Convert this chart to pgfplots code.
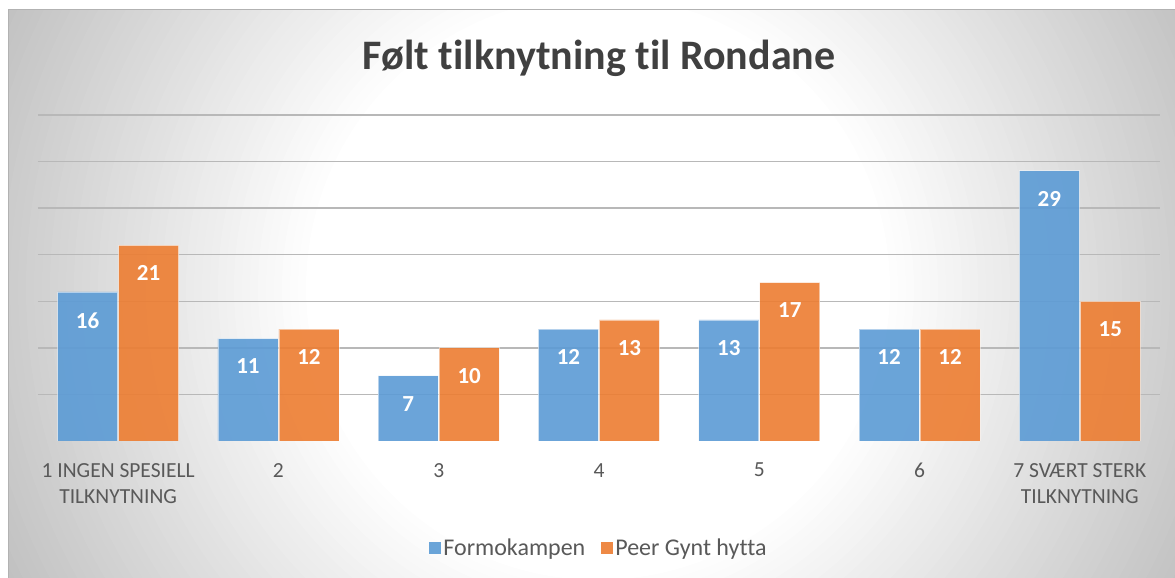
\documentclass[border=0pt]{standalone}
\usepackage{pgfplots}
\pgfplotsset{compat=1.18}
\usepackage{fontspec}
\setmainfont[RawFeature={-liga;-clig;-calt}]{Carlito}
\definecolor{fblue}{HTML}{5B9BD5}
\definecolor{porange}{HTML}{ED7D31}
\definecolor{txt}{HTML}{595959}
\definecolor{ttl}{HTML}{404040}
\begin{document}
\begin{tikzpicture}[x=1pt,y=1pt]
\path[use as bounding box] (0,0) rectangle (1175,578);
\fill[white] (0,0) rectangle (1175,578);
\begin{scope}
\clip (8,-2) rectangle (1185,568);
\foreach \r in {700,692,...,290}{
  \pgfmathsetmacro\g{(\r-290)*27/410}
  \fill[black!\g] (598,290) circle (\r);
}
\end{scope}
\draw[black!30, line width=1pt] (8,-2) -- (8,568) -- (1185,568);
\node[anchor=base, font=\fontsize{42}{50}\selectfont\bfseries, text=ttl] at (599,508) {Følt tilknytning til Rondane};
\begin{axis}[
  at={(38pt,137pt)}, anchor=south west,
  scale only axis, width=1122pt, height=326pt,
  xmin=-0.5, xmax=6.5, ymin=0, ymax=35,
  ybar=1pt, bar width=60pt,
  axis line style={draw=none},
  xtick={0,...,6},
  xticklabels={{1 INGEN SPESIELL\\TILKNYTNING},2,3,4,5,6,{7 SVÆRT STERK\\TILKNYTNING}},
  xticklabel style={font=\fontsize{21.5}{26}\selectfont, text=txt, align=center, inner sep=0pt, yshift=-22pt},
  ytick={5,10,...,35}, yticklabels={},
  major tick length=0pt,
  ymajorgrids, grid style={black!28, line width=1.3pt},
  /pgf/number format/assume math mode=true,
  nodes near coords,
  every node near coord/.append style={font=\fontsize{23}{26}\selectfont\bfseries, text=white, anchor=north, inner sep=0pt, yshift=-20pt, fill opacity=1, text opacity=1, draw=none},
  legend style={at={(0.5,-0.328)}, anchor=center, draw=none, fill=none, legend columns=2, font=\fontsize{24}{28}\selectfont, text=txt, /tikz/every even column/.append style={column sep=14pt}},
  legend image code/.code={\fill[#1, draw=none] (0pt,-6pt) rectangle (12pt,6pt);},
]
\addplot[fill=fblue, fill opacity=0.9, draw=white, draw opacity=0.5, line width=0.8pt] coordinates {(0,16) (1,11) (2,7) (3,12) (4,13) (5,12) (6,29)};
\addplot[fill=porange, fill opacity=0.9, draw=white, draw opacity=0.5, line width=0.8pt] coordinates {(0,21) (1,12) (2,10) (3,13) (4,17) (5,12) (6,15)};
\legend{Formokampen, Peer Gynt hytta}
\draw[black!72, line width=3.5pt] ([yshift=-1.5pt]rel axis cs:0,0) -- ([yshift=-1.5pt]rel axis cs:1,0);
\end{axis}
\end{tikzpicture}
\end{document}
